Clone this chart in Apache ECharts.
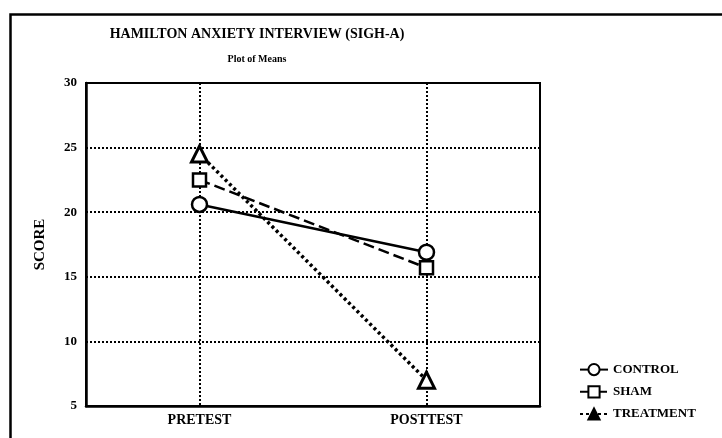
<!DOCTYPE html>
<html>
<head>
<meta charset="utf-8">
<script src="https://cdn.jsdelivr.net/npm/echarts@6/dist/echarts.min.js"></script>
<style>
    html, body { margin: 0; padding: 0; background: #fff; }
    #main { width: 722px; height: 438px; }
</style>
</head>
<body>
<div id="main"></div>
<script>
    const timePoints = ['PRETEST', 'POSTTEST'];
    const controlMeans = [20.6, 16.9];
    const shamMeans = [22.5, 15.7];
    const treatmentMeans = [24.5, 7.0];
    const scoreTicks = [5, 10, 15, 20, 25, 30];

    const serif = '"Liberation Serif", "DejaVu Serif", serif';
    const myChart = echarts.init(document.getElementById('main'));

    const dotted = { color: '#000', width: 2, type: [2, 2] };

    const option = {
        backgroundColor: '#fff',
        animation: false,
        color: ['#000'],
        title: [
            {
                text: 'HAMILTON ANXIETY INTERVIEW (SIGH-A)',
                left: 252, top: 22, textAlign: 'center',
                textStyle: { fontFamily: serif, fontSize: 14, fontWeight: 'bold', color: '#000' }
            },
            {
                text: 'Plot of Means',
                left: 252, top: 49, textAlign: 'center',
                textStyle: { fontFamily: serif, fontSize: 10, fontWeight: 'bold', color: '#000' }
            }
        ],
        graphic: [{
            type: 'rect',
            left: 8, top: 12,
            shape: { width: 740, height: 460 },
            style: { fill: 'none', stroke: '#000', lineWidth: 2.5 }
        }],
        legend: {
            orient: 'vertical',
            left: 574, top: 358,
            itemWidth: 28, itemHeight: 14, itemGap: 9,
            textStyle: { fontFamily: serif, fontSize: 13, fontWeight: 'bold', color: '#000' },
            data: [
                { name: 'CONTROL' },
                { name: 'SHAM' },
                { name: 'TREATMENT', itemStyle: { color: '#000' } }
            ]
        },
        grid: {
            left: 86, right: 182, top: 83, bottom: 32,
            show: true, borderColor: '#000', borderWidth: 2
        },
        xAxis: {
            type: 'category',
            data: timePoints,
            axisLine: { lineStyle: { color: '#000', width: 2.5 } },
            axisTick: { show: false },
            axisLabel: { fontFamily: serif, fontSize: 14, fontWeight: 'bold', color: '#000', margin: 7 },
            splitLine: { show: true, alignWithLabel: true, lineStyle: dotted }
        },
        yAxis: {
            type: 'value',
            min: scoreTicks[0], max: scoreTicks[scoreTicks.length - 1], interval: 5,
            name: 'SCORE', nameLocation: 'middle', nameGap: 38, nameRotate: 90,
            nameTextStyle: { fontFamily: serif, fontSize: 15, fontWeight: 'bold', color: '#000' },
            axisLine: { show: true, lineStyle: { color: '#000', width: 2.5 } },
            axisTick: { show: false },
            axisLabel: { fontFamily: serif, fontSize: 13, fontWeight: 'bold', color: '#000', margin: 9 },
            splitLine: { show: true, lineStyle: dotted }
        },
        series: [
            {
                name: 'CONTROL', type: 'line', data: controlMeans,
                symbol: 'circle', symbolSize: 15,
                lineStyle: { color: '#000', width: 2.5, type: 'solid' },
                itemStyle: { color: '#fff', borderColor: '#000', borderWidth: 2.5 },
                z: 4
            },
            {
                name: 'SHAM', type: 'line', data: shamMeans,
                symbol: 'rect', symbolSize: 13,
                lineStyle: { color: '#000', width: 2.5, type: [11, 5] },
                itemStyle: { color: '#fff', borderColor: '#000', borderWidth: 2.5 },
                z: 3
            },
            {
                name: 'TREATMENT', type: 'line', data: treatmentMeans,
                symbol: 'triangle', symbolSize: 16,
                lineStyle: { color: '#000', width: 3.5, type: [3, 3] },
                itemStyle: { color: '#fff', borderColor: '#000', borderWidth: 3 },
                z: 2
            }
        ]
    };

    myChart.setOption(option);
</script>
</body>
</html>
